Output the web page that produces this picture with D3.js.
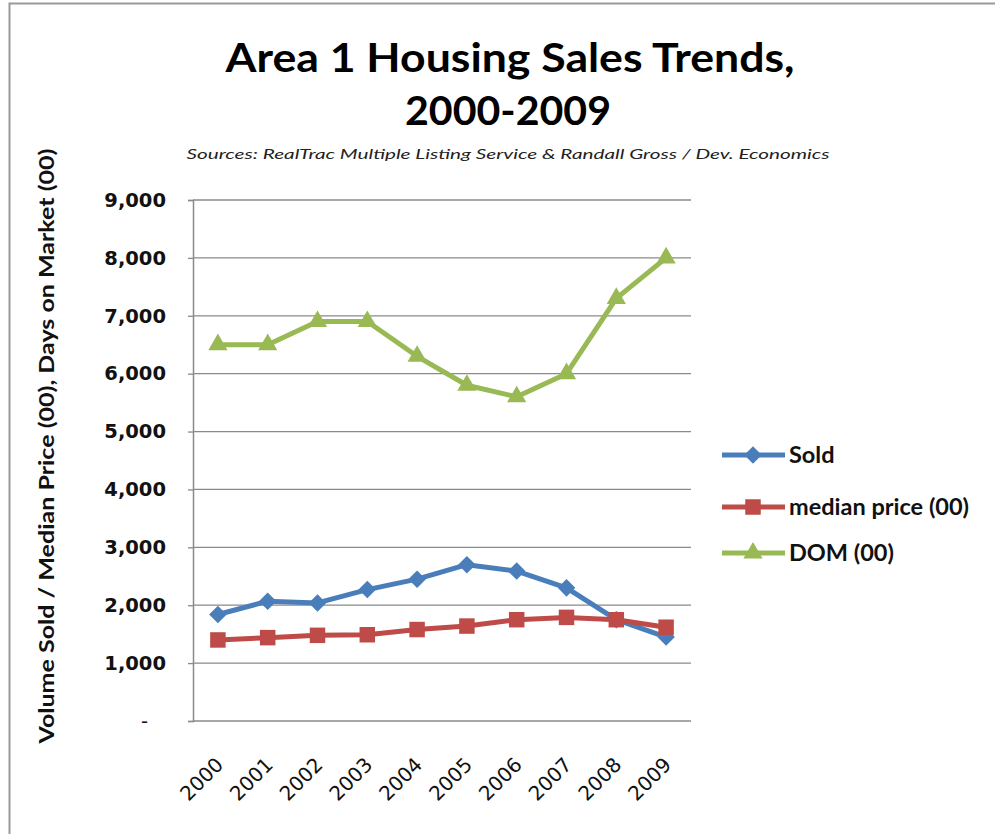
<!DOCTYPE html>
<html>
<head>
<meta charset="utf-8">
<script src="https://cdn.jsdelivr.net/npm/d3@7/dist/d3.min.js"></script>
<style>
  html, body { margin: 0; padding: 0; background: #fff; }
  svg { display: block; }
</style>
</head>
<body>
<svg id="chart" width="995" height="834"></svg>
<script>
// Area 1 housing sales, 2000-2009
const years = ["2000", "2001", "2002", "2003", "2004", "2005", "2006", "2007", "2008", "2009"];
const sold = [1840, 2070, 2040, 2270, 2450, 2700, 2590, 2300, 1750, 1450];
const medianPrice = [1400, 1440, 1480, 1490, 1580, 1640, 1750, 1790, 1750, 1620];
const dom = [6500, 6500, 6900, 6900, 6300, 5800, 5600, 6000, 7300, 8000];
const yTicks = [0, 1000, 2000, 3000, 4000, 5000, 6000, 7000, 8000, 9000];
const seriesNames = ["Sold", "median price (00)", "DOM (00)"];

// diamond markers are squares turned 45 degrees, slightly narrowed
const series = [
  { name: seriesNames[0], values: sold, color: "#4a7ebb", symbol: d3.symbolSquare, size: 190, turn: "rotate(45) scale(0.9,0.9)" },
  { name: seriesNames[1], values: medianPrice, color: "#be4b48", symbol: d3.symbolSquare, size: 240, turn: "" },
  { name: seriesNames[2], values: dom, color: "#98b954", symbol: d3.symbolTriangle, size: 160, turn: "" }
];

const svg = d3.select("#chart");
const plot = { left: 193, right: 691, top: 200, bottom: 721 };
const sans = "Lato, 'Open Sans', sans-serif";
const numFont = "'DejaVu Sans', sans-serif";

// outer frame (top and left edges visible)
svg.append("path")
  .attr("d", "M9.5,834 V3.5 H995")
  .attr("fill", "none").attr("stroke", "#9a9a9a").attr("stroke-width", 2);

// title
svg.append("text").attr("x", 510).attr("y", 72).attr("text-anchor", "middle")
  .attr("font-family", sans).attr("font-weight", 700).attr("font-size", 41)
  .attr("textLength", 569).attr("lengthAdjust", "spacingAndGlyphs")
  .text("Area 1 Housing Sales Trends,");
svg.append("text").attr("x", 508).attr("y", 125).attr("text-anchor", "middle")
  .attr("font-family", sans).attr("font-weight", 700).attr("font-size", 41)
  .attr("textLength", 206).attr("lengthAdjust", "spacingAndGlyphs")
  .text("2000-2009");
svg.append("text").attr("x", 508).attr("y", 159).attr("text-anchor", "middle")
  .attr("font-family", sans).attr("font-style", "italic").attr("font-size", 14)
  .attr("fill", "#222")
  .attr("textLength", 643).attr("lengthAdjust", "spacingAndGlyphs")
  .text("Sources: RealTrac Multiple Listing Service & Randall Gross / Dev. Economics");

// scales
const x = d3.scalePoint().domain(years).range([plot.left, plot.right]).padding(0.5);
const y = d3.scaleLinear().domain([0, 9000]).range([plot.bottom, plot.top]);

// gridlines
svg.append("g").selectAll("line").data(yTicks.filter(v => v > 0)).join("line")
  .attr("x1", plot.left).attr("x2", plot.right)
  .attr("y1", d => y(d)).attr("y2", d => y(d))
  .attr("stroke", "#8a8a8a").attr("stroke-width", 1.3);

// y axis
const yAxis = d3.axisLeft(y).tickValues(yTicks).tickSizeOuter(0).tickSize(5).tickPadding(22)
  .tickFormat(d => d === 0 ? "-" : d3.format(",")(d));
const gy = svg.append("g").attr("transform", `translate(${plot.left},0)`).call(yAxis);
gy.select(".domain").attr("stroke", "#8a8a8a").attr("stroke-width", 1.5);
gy.selectAll(".tick line").attr("stroke", "#8a8a8a").attr("stroke-width", 1.3);
gy.selectAll(".tick text")
  .attr("font-family", numFont).attr("font-weight", 700)
  .attr("font-size", 19.5).attr("fill", "#111");
gy.selectAll(".tick text").filter(d => d === 0).attr("dx", -18).attr("font-weight", 400);

// x axis
const xAxis = d3.axisBottom(x).tickSize(0).tickSizeOuter(0).tickPadding(0);
const gx = svg.append("g").attr("transform", `translate(0,${plot.bottom})`).call(xAxis);
gx.select(".domain").attr("stroke", "#8a8a8a").attr("stroke-width", 1.5)
  .attr("d", `M${plot.left},0H${plot.right}`);
gx.selectAll(".tick text")
  .attr("font-family", numFont).attr("font-size", 20).attr("fill", "#111")
  .attr("text-anchor", "end").attr("dy", 0)
  .attr("transform", "translate(6,45) rotate(-45)");

// y axis title
svg.append("text")
  .attr("transform", "translate(54,446) rotate(-90)")
  .attr("text-anchor", "middle")
  .attr("font-family", sans).attr("font-weight", 700).attr("font-size", 21)
  .attr("textLength", 595).attr("lengthAdjust", "spacingAndGlyphs")
  .attr("fill", "#111")
  .text("Volume Sold / Median Price (00), Days on Market (00)");

// series lines and markers
const line = d3.line().x((d, i) => x(years[i])).y(d => y(d));
series.forEach(s => {
  const g = svg.append("g");
  g.append("path").datum(s.values).attr("d", line)
    .attr("fill", "none").attr("stroke", s.color).attr("stroke-width", 5)
    .attr("stroke-linejoin", "round");
  g.selectAll("path.m").data(s.values).join("path").attr("class", "m")
    .attr("transform", (d, i) => `translate(${x(years[i])},${y(d)}) ${s.turn}`)
    .attr("d", d3.symbol(s.symbol, s.size))
    .attr("fill", s.color);
});

// legend
const legend = svg.append("g");
series.forEach((s, i) => {
  const ly = [455, 507, 553][i];
  legend.append("line").attr("x1", 722).attr("x2", 785).attr("y1", ly).attr("y2", ly)
    .attr("stroke", s.color).attr("stroke-width", 5);
  legend.append("path").attr("transform", `translate(753,${ly}) ${s.turn}`)
    .attr("d", d3.symbol(s.symbol, s.size)).attr("fill", s.color);
  legend.append("text").attr("x", 789).attr("y", ly + 8)
    .attr("font-family", sans).attr("font-weight", 700).attr("font-size", 23.5)
    .attr("fill", "#111").text(s.name);
});
</script>
</body>
</html>
